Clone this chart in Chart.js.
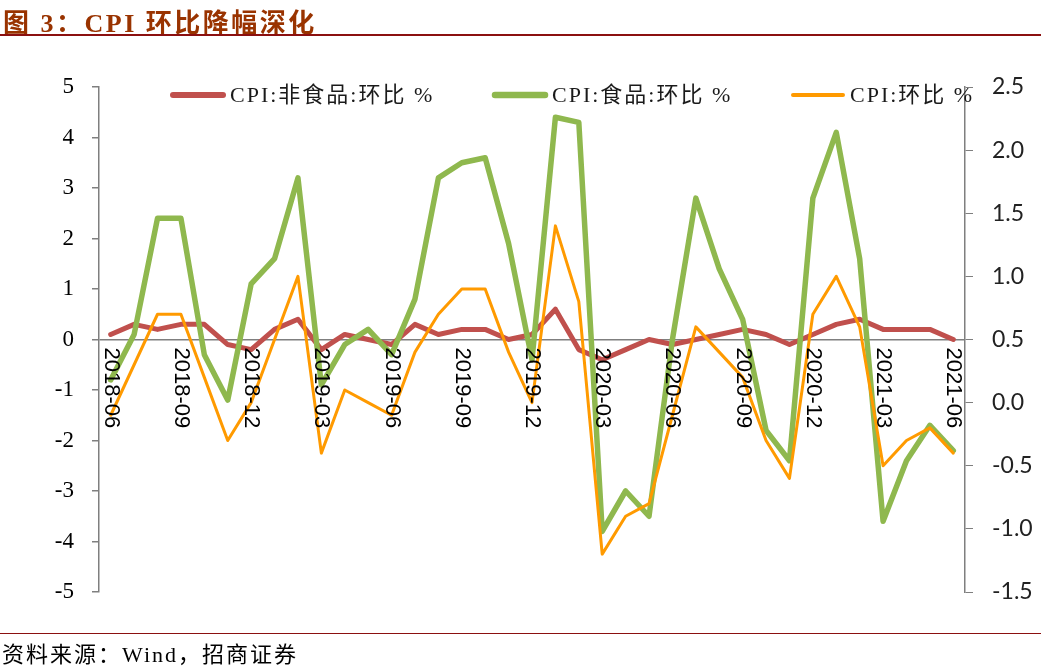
<!DOCTYPE html>
<html>
<head>
<meta charset="utf-8">
<title>CPI 环比降幅深化</title>
<script src="https://cdn.jsdelivr.net/npm/chart.js@4.4.0/dist/chart.umd.min.js"></script>
<style>
    body { margin: 0; background: #fff; }
    #wrap { position: relative; width: 1041px; height: 667px; overflow: hidden; }
    #chart { position: absolute; left: 0; top: 0; }
    #title {
        position: absolute; left: 3px; top: 2px; white-space: nowrap;
        font: bold 26px "Liberation Serif", "Noto Sans CJK SC", serif;
        color: #993300; letter-spacing: 2.5px;
    }
    #titleLine { position: absolute; left: 0; top: 34px; width: 1041px; height: 2px; background: #8B1010; }
    #srcLine { position: absolute; left: 0; top: 633px; width: 1041px; height: 1px; background: #8B1010; }
    #source {
        position: absolute; left: 2px; top: 636px; white-space: nowrap;
        font: 22px "Liberation Serif", "Noto Sans CJK SC", serif;
        color: #000; letter-spacing: 2px;
    }
</style>
</head>
<body>
<div id="wrap">
    <canvas id="chart" width="1041" height="667"></canvas>
    <div id="title">图 3：CPI 环比降幅深化</div>
    <div id="titleLine"></div>
    <div id="srcLine"></div>
    <div id="source">资料来源：Wind，招商证券</div>
</div>
<script>
// months 2018-06 .. 2021-06
const months = [
    "2018-06", "2018-07", "2018-08", "2018-09", "2018-10", "2018-11", "2018-12",
    "2019-01", "2019-02", "2019-03", "2019-04", "2019-05", "2019-06", "2019-07",
    "2019-08", "2019-09", "2019-10", "2019-11", "2019-12", "2020-01", "2020-02",
    "2020-03", "2020-04", "2020-05", "2020-06", "2020-07", "2020-08", "2020-09",
    "2020-10", "2020-11", "2020-12", "2021-01", "2021-02", "2021-03", "2021-04",
    "2021-05", "2021-06"
];

// CPI:非食品:环比 %  (left axis)
const nonFood = [
    0.1, 0.3, 0.2, 0.3, 0.3, -0.1, -0.2,
    0.2, 0.4, -0.2, 0.1, 0.0, -0.1, 0.3,
    0.1, 0.2, 0.2, 0.0, 0.1, 0.6, -0.2,
    -0.4, -0.2, 0.0, -0.1, 0.0, 0.1, 0.2,
    0.1, -0.1, 0.1, 0.3, 0.4, 0.2, 0.2,
    0.2, 0.0
];

// CPI:食品:环比 %  (left axis)
const food = [
    -0.8, 0.1, 2.4, 2.4, -0.3, -1.2, 1.1,
    1.6, 3.2, -0.9, -0.1, 0.2, -0.3, 0.8,
    3.2, 3.5, 3.6, 1.9, -0.4, 4.4, 4.3,
    -3.8, -3.0, -3.5, 0.0, 2.8, 1.4, 0.4,
    -1.8, -2.4, 2.8, 4.1, 1.6, -3.6, -2.4,
    -1.7, -2.2
];

// CPI:环比 %  (right axis)
const cpi = [
    -0.1, 0.3, 0.7, 0.7, 0.2, -0.3, 0.0,
    0.5, 1.0, -0.4, 0.1, 0.0, -0.1, 0.4,
    0.7, 0.9, 0.9, 0.4, 0.0, 1.4, 0.8,
    -1.2, -0.9, -0.8, -0.1, 0.6, 0.4, 0.2,
    -0.3, -0.6, 0.7, 1.0, 0.6, -0.5, -0.3,
    -0.2, -0.4
];

const seriesNames = ["CPI:非食品:环比 %", "CPI:食品:环比 %", "CPI:环比 %"];
const leftRange = [-5, 5];
const leftStep = 1;
const rightRange = [-1.5, 2.5];
const rightStep = 0.5;
const labelEvery = 3;

const axisGray = "#7f7f7f";

// x labels read top-to-bottom, hanging under the zero line
const xLabelPlugin = {
    id: "xLabels",
    afterDatasetsDraw(chart) {
        const ctx = chart.ctx;
        const xs = chart.scales.x;
        const y0 = chart.scales.y.getPixelForValue(0);
        ctx.save();
        ctx.font = '22px "Liberation Sans", Arial, sans-serif';
        ctx.fillStyle = "#000";
        ctx.textAlign = "left";
        ctx.textBaseline = "middle";
        months.forEach((m, i) => {
            if (i % labelEvery) return;
            ctx.save();
            ctx.translate(xs.getPixelForValue(i), y0 + 8);
            ctx.rotate(Math.PI / 2);
            ctx.fillText(m, 0, 0);
            ctx.restore();
        });
        ctx.restore();
    }
};

// legend sits inside the plot, across the top
const legendPlugin = {
    id: "innerLegend",
    afterDatasetsDraw(chart) {
        const ctx = chart.ctx;
        const starts = [170, 492, 790];
        const y = 95;
        ctx.save();
        ctx.font = '22px "Liberation Serif", "Noto Sans CJK SC", serif';
        ctx.letterSpacing = "2px";
        ctx.textBaseline = "middle";
        ctx.textAlign = "left";
        chart.data.datasets.forEach((ds, i) => {
            const x = starts[i];
            ctx.strokeStyle = ds.borderColor;
            ctx.lineWidth = ds.borderWidth + 1;
            ctx.lineCap = "round";
            ctx.beginPath();
            ctx.moveTo(x + 3, y);
            ctx.lineTo(x + 53, y);
            ctx.stroke();
            ctx.fillStyle = "#1a1a1a";
            ctx.fillText(ds.label, x + 60, y + 1);
        });
        ctx.restore();
    }
};

const lineDefaults = {
    pointRadius: 0,
    tension: 0,
    borderJoinStyle: "round",
    borderCapStyle: "round",
    fill: false
};

new Chart(document.getElementById("chart"), {
    type: "line",
    data: {
        labels: months,
        datasets: [
            { ...lineDefaults, label: seriesNames[0], data: nonFood, yAxisID: "y",
              borderColor: "#C0504D", backgroundColor: "#C0504D", borderWidth: 5, order: 3 },
            { ...lineDefaults, label: seriesNames[1], data: food, yAxisID: "y",
              borderColor: "#8FB84E", backgroundColor: "#8FB84E", borderWidth: 5.5, order: 2 },
            { ...lineDefaults, label: seriesNames[2], data: cpi, yAxisID: "y2",
              borderColor: "#FF9A00", backgroundColor: "#FF9A00", borderWidth: 3, order: 1 }
        ]
    },
    options: {
        responsive: false,
        animation: false,
        devicePixelRatio: 1,
        layout: { padding: { top: 87, bottom: 75, left: 0, right: 0 } },
        plugins: {
            legend: { display: false },
            tooltip: { enabled: false }
        },
        scales: {
            x: {
                type: "category",
                offset: true,
                display: false
            },
            y: {
                position: "left",
                min: leftRange[0],
                max: leftRange[1],
                afterFit(scale) { scale.width = 99; },
                ticks: {
                    stepSize: leftStep,
                    padding: 18,
                    color: "#000",
                    font: { family: '"Liberation Serif", serif', size: 23 }
                },
                grid: {
                    drawOnChartArea: true,
                    color: (c) => (c.tick && c.tick.value === 0 ? axisGray : "rgba(0,0,0,0)"),
                    lineWidth: 1.5,
                    tickColor: axisGray,
                    tickLength: 7
                },
                border: { display: true, color: axisGray, width: 1.5 }
            },
            y2: {
                position: "right",
                min: rightRange[0],
                max: rightRange[1],
                afterFit(scale) { scale.width = 76; },
                ticks: {
                    stepSize: rightStep,
                    padding: 19,
                    color: "#222",
                    font: { family: 'Lato, "Liberation Sans", sans-serif', size: 23 },
                    callback: (v) => v.toFixed(1)
                },
                grid: {
                    drawOnChartArea: false,
                    tickColor: axisGray,
                    tickLength: 8
                },
                border: { display: true, color: axisGray, width: 1.5 }
            }
        }
    },
    plugins: [xLabelPlugin, legendPlugin]
});
</script>
</body>
</html>
